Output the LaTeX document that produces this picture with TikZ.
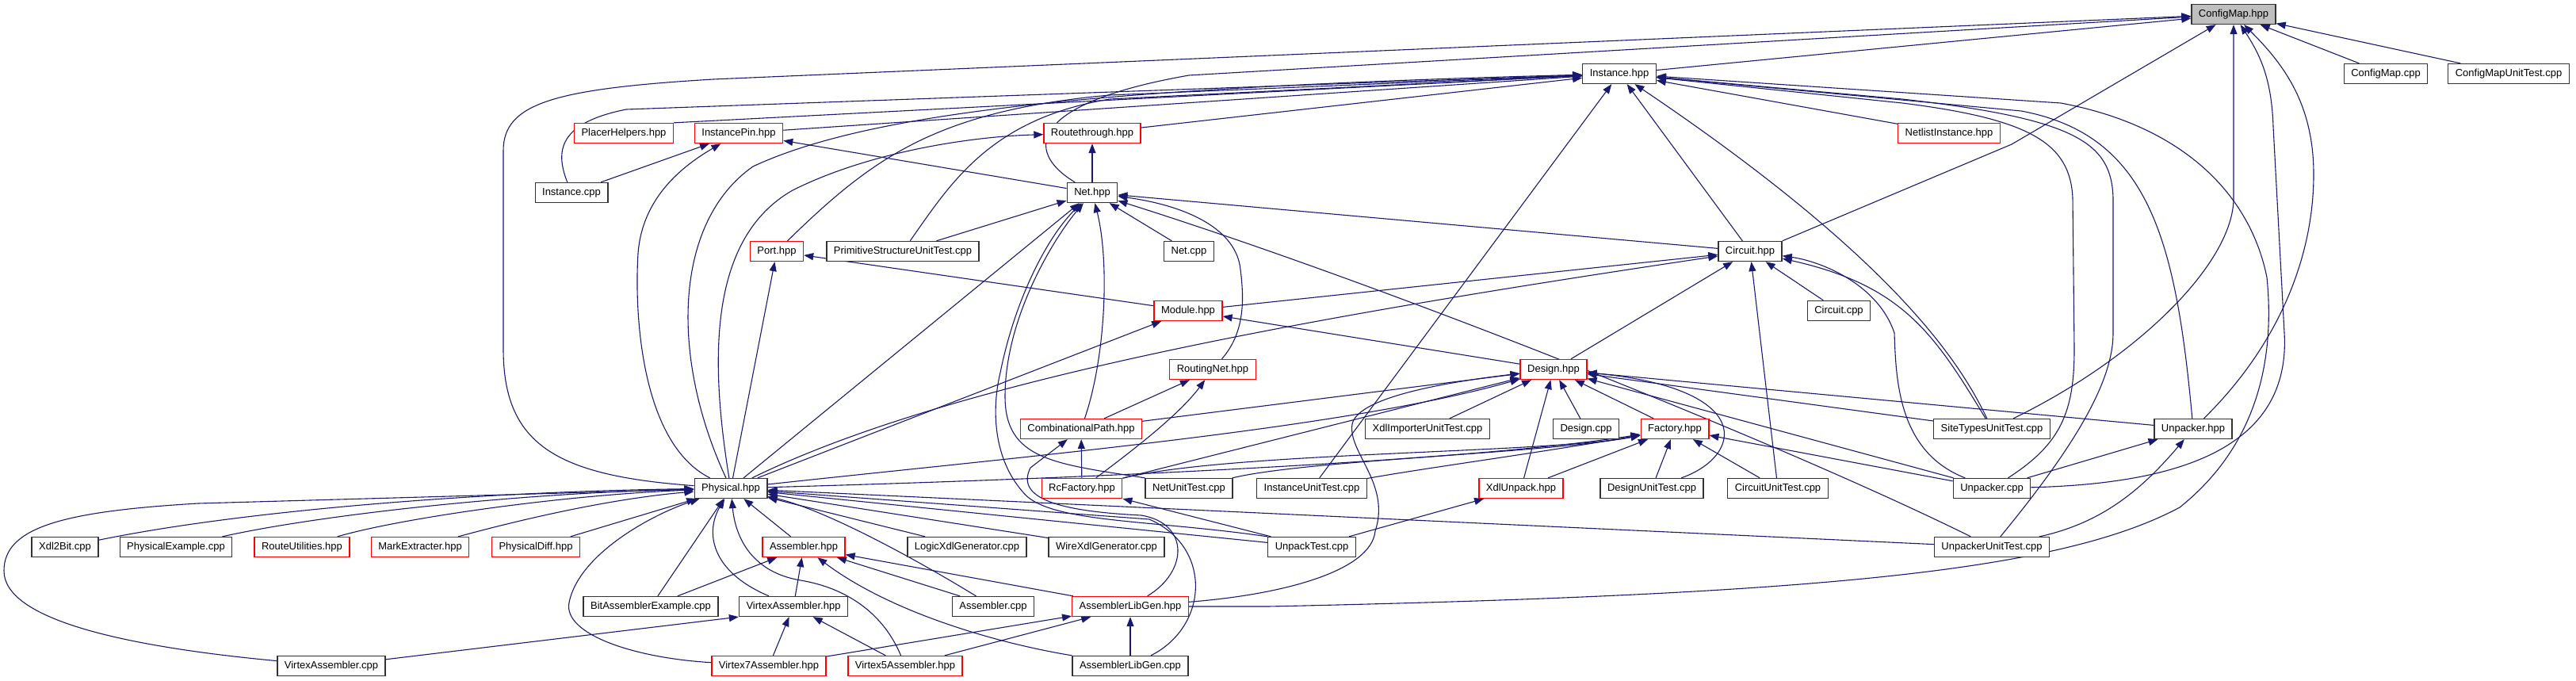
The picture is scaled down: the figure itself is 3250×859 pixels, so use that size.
\documentclass[tikz,border=0pt]{standalone}
\usepackage{fontspec}
\setmainfont{Liberation Sans}
\usepackage{tikz}
\usepackage{xcolor}
\usetikzlibrary{arrows.meta,backgrounds}

\definecolor{edgeblue}{HTML}{191970}
\definecolor{rootgray}{HTML}{BFBFBF}

\begin{document}
\begin{tikzpicture}[x=1pt, y=-1pt,
  file/.style={draw=black!80, line width=1.3pt, fill=white, minimum height=25pt,
    inner xsep=9pt, inner ysep=2pt, font=\fontsize{13}{15}\selectfont},
  part/.style={file, draw=red},
  root/.style={file, fill=rootgray},
  dep/.style={draw=edgeblue, line width=1.1pt, -{Triangle[length=12pt,width=9pt]}}]
  \useasboundingbox (0,0) rectangle (3250,859);

  % header at the top
  \node[root] (cm) at (2818,18) {ConfigMap.hpp};
  \node[file] (inst) at (2043,93) {Instance.hpp};
  \node[file] (cmcpp) at (3010,93) {ConfigMap.cpp};
  \node[file] (cmut) at (3165,93) {ConfigMapUnitTest.cpp};

  % rows 2-5
  \node[part] (placer) at (787,168) {PlacerHelpers.hpp};
  \node[part] (ipin) at (932,168) {InstancePin.hpp};
  \node[part] (rt) at (1378,168) {Routethrough.hpp};
  \node[part] (nli) at (2459,168) {NetlistInstance.hpp};
  \node[file] (instcpp) at (721,243) {Instance.cpp};
  \node[file] (net) at (1378,243) {Net.hpp};
  \node[part] (port) at (980,317) {Port.hpp};
  \node[file] (psut) at (1139,317) {PrimitiveStructureUnitTest.cpp};
  \node[file] (netcpp) at (1500,317) {Net.cpp};
  \node[file] (circ) at (2208,317) {Circuit.hpp};
  \node[part] (mod) at (1499,392) {Module.hpp};
  \node[file] (circcpp) at (2320,392) {Circuit.cpp};

  % rows 6-8
  \node[part] (rnet) at (1530,466) {RoutingNet.hpp};
  \node[part] (des) at (1960,466) {Design.hpp};
  \node[part] (cpath) at (1364,541) {CombinationalPath.hpp};
  \node[file] (xiut) at (1801,541) {XdlImporterUnitTest.cpp};
  \node[file] (descpp) at (2001,541) {Design.cpp};
  \node[part] (fac) at (2113,541) {Factory.hpp};
  \node[file] (stut) at (2513,541) {SiteTypesUnitTest.cpp};
  \node[file] (unph) at (2767,541) {Unpacker.hpp};
  \node[file] (phys) at (922,616) {Physical.hpp};
  \node[part] (rcf) at (1365,616) {RcFactory.hpp};
  \node[file] (nut) at (1500,616) {NetUnitTest.cpp};
  \node[file] (iut) at (1655,616) {InstanceUnitTest.cpp};
  \node[part] (xunp) at (1919,616) {XdlUnpack.hpp};
  \node[file] (dut) at (2084,616) {DesignUnitTest.cpp};
  \node[file] (cut) at (2243,616) {CircuitUnitTest.cpp};
  \node[file] (unpcpp) at (2513,616) {Unpacker.cpp};

  % rows 9-11
  \node[file] (x2b) at (82,690) {Xdl2Bit.cpp};
  \node[file] (pex) at (222,690) {PhysicalExample.cpp};
  \node[part] (ru) at (381,690) {RouteUtilities.hpp};
  \node[part] (me) at (530,690) {MarkExtracter.hpp};
  \node[part] (pd) at (676,690) {PhysicalDiff.hpp};
  \node[part] (asm) at (1014,690) {Assembler.hpp};
  \node[file] (lxg) at (1220,690) {LogicXdlGenerator.cpp};
  \node[file] (wxg) at (1396,690) {WireXdlGenerator.cpp};
  \node[file] (upt) at (1655,690) {UnpackTest.cpp};
  \node[file] (uut) at (2513,690) {UnpackerUnitTest.cpp};
  \node[file] (bae) at (821,765) {BitAssemblerExample.cpp};
  \node[file] (vah) at (1001,765) {VirtexAssembler.hpp};
  \node[file] (asmcpp) at (1253,765) {Assembler.cpp};
  \node[part] (alg) at (1426,765) {AssemblerLibGen.hpp};
  \node[file] (vacpp) at (418,840) {VirtexAssembler.cpp};
  \node[part] (v7) at (970,840) {Virtex7Assembler.hpp};
  \node[part] (v5) at (1142,840) {Virtex5Assembler.hpp};
  \node[file] (algcpp) at (1426,840) {AssemblerLibGen.cpp};

  \begin{scope}[on background layer]
  % into ConfigMap.hpp
  \draw[dep] (inst) -- (cm);
  \draw[dep] (net) .. controls (1290,190) and (1300,130) .. (1500,95) -- (cm);
  \draw[dep] (phys) .. controls (700,600) and (635,560) .. (635,440) -- (635,190) .. controls (635,130) and (700,112) .. (900,100) -- (cm);
  \draw[dep] (circ.north east) -- (2538,182) -- (cm);
  \draw[dep] (stut) .. controls (2700,450) and (2818,330) .. (2818,250) -- (cm);
  \draw[dep] (unph) .. controls (2870,440) and (2919,330) .. (2919,220) .. controls (2919,130) and (2880,80) .. (cm);
  \draw[dep] (unpcpp) .. controls (2760,610) and (2890,560) .. (2882,420) -- (2868,160) .. controls (2866,100) and (2852,70) .. (cm);
  \draw[dep] (cmcpp) -- (cm);
  \draw[dep] (cmut) -- (cm);

  % into Instance.hpp
  \draw[dep] (placer.north east) -- (inst);
  \draw[dep] (ipin) -- (inst);
  \draw[dep] (instcpp) .. controls (700,190) and (705,155) .. (790,138) -- (inst);
  \draw[dep] (phys) .. controls (845,450) and (850,280) .. (950,210) .. controls (1100,140) and (1400,110) .. (inst);
  \draw[dep] (port) .. controls (1100,200) and (1180,140) .. (1400,120) -- (inst);
  \draw[dep] (psut) .. controls (1200,230) and (1250,150) .. (1400,125) -- (inst);
  \draw[dep] (rt) -- (inst);
  \draw[dep] (circ) -- (inst);
  \draw[dep] (nli) -- (inst);
  \draw[dep] (iut) -- (inst);
  \draw[dep] (stut) .. controls (2470,450) and (2380,320) .. (inst);
  \draw[dep] (unph) .. controls (2745,300) and (2710,170) .. (2550,140) -- (inst);
  \draw[dep] (unpcpp) .. controls (2600,560) and (2617,520) .. (2617,440) -- (2615,250) .. controls (2612,180) and (2560,150) .. (2400,130) -- (inst);
  \draw[dep] (uut) .. controls (2620,560) and (2666,480) .. (2666,420) -- (2666,250) .. controls (2664,180) and (2620,150) .. (2400,125) -- (inst);
  \draw[dep] (alg) -- (1600,765) .. controls (2300,750) and (2600,720) .. (2750,640) .. controls (2850,560) and (2870,450) .. (2860,350) .. controls (2840,250) and (2760,160) .. (2600,130) -- (inst);

  % into Net.hpp
  \draw[dep] (psut) -- (net);
  \draw[dep] (phys) -- (net);
  \draw[dep] (netcpp) -- (net);
  \draw[dep] (circ) -- (net);
  \draw[dep] (rnet) .. controls (1570,420) and (1570,380) .. (1565,340) .. controls (1560,290) and (1500,260) .. (net);
  \draw[dep] (cpath) .. controls (1395,450) and (1400,330) .. (net);
  \draw[dep] (nut.north west) .. controls (1330,585) and (1268,580) .. (1268,500) .. controls (1268,400) and (1330,300) .. (net);
  \draw[dep] (upt.north west) .. controls (1450,655) and (1320,660) .. (1290,620) .. controls (1255,580) and (1250,520) .. (1262,470) .. controls (1280,380) and (1320,300) .. (net);
  \draw[dep] (uut) .. controls (2250,560) and (1750,360) .. (net);

  % into Routethrough.hpp, InstancePin.hpp, Port.hpp
  \draw[dep] (net) -- (rt);
  \draw[dep] (phys) .. controls (895,450) and (895,300) .. (1000,240) .. controls (1100,190) and (1230,172) .. (rt);
  \draw[dep] (net) -- (ipin);
  \draw[dep] (instcpp) -- (ipin);
  \draw[dep] (phys) .. controls (810,560) and (800,400) .. (805,320) .. controls (810,250) and (860,210) .. (ipin);
  \draw[dep] (phys) -- (port);
  \draw[dep] (mod) -- (port);

  % into Module.hpp and Circuit.hpp
  \draw[dep] (des) -- (mod);
  \draw[dep] (phys) -- (mod);
  \draw[dep] (mod) -- (circ);
  \draw[dep] (phys) .. controls (1200,480) and (1650,400) .. (circ);
  \draw[dep] (des) -- (circ);
  \draw[dep] (circcpp) -- (circ);
  \draw[dep] (cut) -- (circ);
  \draw[dep] (stut) .. controls (2440,420) and (2400,360) .. (circ);
  \draw[dep] (unpcpp) .. controls (2395,570) and (2392,480) .. (2390,420) .. controls (2370,360) and (2300,330) .. (circ);

  % into RoutingNet.hpp and CombinationalPath.hpp
  \draw[dep] (cpath) -- (rnet);
  \draw[dep] (rcf) .. controls (1440,560) and (1490,520) .. (rnet);
  \draw[dep] (rcf) -- (cpath);
  \draw[dep] (alg) .. controls (1500,720) and (1500,660) .. (1440,650) .. controls (1340,645) and (1280,630) .. (1300,590) -- (cpath);

  % into Design.hpp
  \draw[dep] (cpath) -- (des);
  \draw[dep] (rcf) -- (des);
  \draw[dep] (phys) .. controls (1300,575) and (1700,540) .. (des);
  \draw[dep] (xiut) -- (des);
  \draw[dep] (descpp) -- (des);
  \draw[dep] (fac) -- (des);
  \draw[dep] (xunp) -- (des);
  \draw[dep] (dut) .. controls (2200,575) and (2215,490) .. (des);
  \draw[dep] (stut) -- (des);
  \draw[dep] (unph) -- (des);
  \draw[dep] (unpcpp) -- (des);
  \draw[dep] (alg) .. controls (1620,750) and (1730,720) .. (1735,670) .. controls (1755,610) and (1700,570) .. (1706,535) .. controls (1712,505) and (1800,485) .. (des);

  % into Factory.hpp
  \draw[dep] (phys) .. controls (1500,600) and (1900,575) .. (fac);
  \draw[dep] (rcf) .. controls (1550,570) and (1950,572) .. (fac);
  \draw[dep] (nut) .. controls (1650,580) and (1950,572) .. (fac);
  \draw[dep] (iut) .. controls (1800,590) and (1950,570) .. (fac);
  \draw[dep] (xunp) -- (fac);
  \draw[dep] (dut) -- (fac);
  \draw[dep] (cut) -- (fac);
  \draw[dep] (unpcpp) -- (fac);

  % into XdlUnpack.hpp, RcFactory.hpp, Unpacker.hpp
  \draw[dep] (upt) -- (xunp);
  \draw[dep] (upt) -- (rcf);
  \draw[dep] (unpcpp) -- (unph);
  \draw[dep] (uut) .. controls (2650,660) and (2700,620) .. (unph);

  % into Physical.hpp
  \draw[dep] (x2b) .. controls (300,645) and (600,620) .. (phys);
  \draw[dep] (pex) .. controls (400,650) and (650,622) .. (phys);
  \draw[dep] (ru) .. controls (500,655) and (700,625) .. (phys);
  \draw[dep] (me) .. controls (640,660) and (760,630) .. (phys);
  \draw[dep] (pd) -- (phys);
  \draw[dep] (vacpp) .. controls (150,815) and (5,780) .. (5,720) .. controls (5,665) and (80,645) .. (250,635) -- (phys);
  \draw[dep] (bae) -- (phys);
  \draw[dep] (vah) .. controls (895,720) and (890,670) .. (phys);
  \draw[dep] (v7) .. controls (800,830) and (710,800) .. (718,760) .. controls (730,700) and (820,650) .. (phys);
  \draw[dep] (v5) .. controls (1115,775) and (1070,742) .. (1010,732) .. controls (950,722) and (928,680) .. (phys);
  \draw[dep] (asm) -- (phys);
  \draw[dep] (asmcpp) .. controls (1130,690) and (1030,640) .. (phys);
  \draw[dep] (lxg) -- (phys);
  \draw[dep] (wxg) -- (phys);
  \draw[dep] (upt) -- (phys);
  \draw[dep] (uut) -- (phys);
  \draw[dep] (algcpp) .. controls (1525,790) and (1530,690) .. (1450,655) -- (phys);

  % into Assembler.hpp, VirtexAssembler.hpp, AssemblerLibGen.hpp
  \draw[dep] (bae) -- (asm);
  \draw[dep] (vah) -- (asm);
  \draw[dep] (asmcpp) -- (asm);
  \draw[dep] (alg) -- (asm);
  \draw[dep] (algcpp.north west) .. controls (1250,810) and (1120,770) .. (asm);
  \draw[dep] (vacpp) -- (vah.south west);
  \draw[dep] (v7) -- (vah);
  \draw[dep] (v5) -- (vah);
  \draw[dep] (v7) -- (alg);
  \draw[dep] (v5) -- (alg);
  \draw[dep] (algcpp) -- (alg);
  \end{scope}
\end{tikzpicture}
\end{document}
